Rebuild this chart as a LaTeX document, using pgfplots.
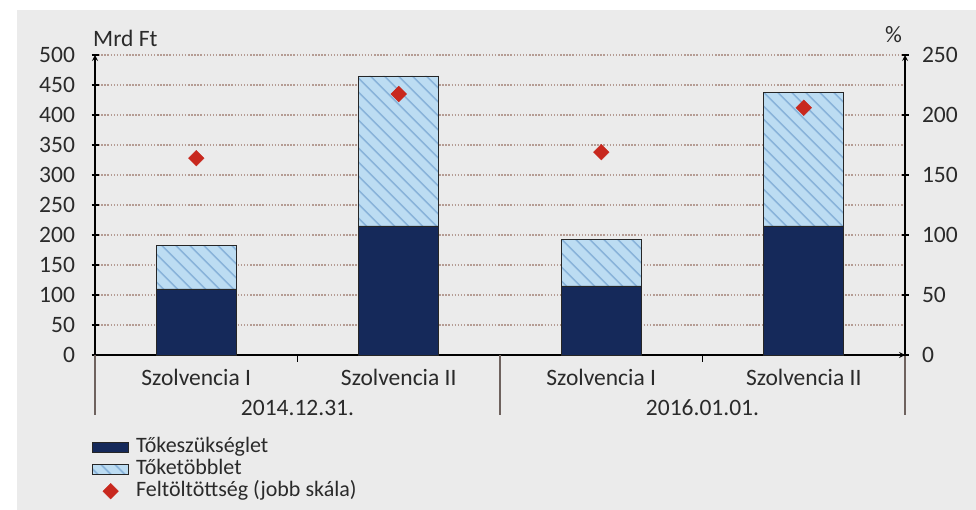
\documentclass[border=0pt]{standalone}
\usepackage{pgfplots}
\pgfplotsset{compat=1.18}
\usepackage{fontspec}
\setmainfont{Carlito}
\usetikzlibrary{patterns.meta}
\definecolor{bg}{HTML}{EBEBEB}
\definecolor{navy}{HTML}{15295A}
\definecolor{lblue}{HTML}{BCDCF2}
\definecolor{hatch}{HTML}{8AB4DA}
\definecolor{dred}{HTML}{C8281E}
\definecolor{gridc}{HTML}{B59C94}
\definecolor{txt}{HTML}{2A2A2A}
\definecolor{sep}{HTML}{6E625E}
\pgfplotsset{
  barleg/.style={legend image code/.code={\draw[##1] (0pt,-5pt) rectangle (36pt,5pt);}},
  markleg/.style={legend image code/.code={\draw[mark repeat=2,mark phase=2,##1] plot coordinates {(0pt,0pt) (18pt,0pt) (36pt,0pt)};}},
}
\begin{document}
\begin{tikzpicture}[x=1pt,y=1pt,font=\fontsize{23.5}{27}\selectfont]
\path[use as bounding box] (0,0) rectangle (976,510);
\fill[bg] (17,0) rectangle (976,500);
\pgfplotsset{
  every axis/.append style={
    at={(95pt,155pt)}, anchor=south west,
    scale only axis, width=810pt, height=300pt,
    xmin=-0.5, xmax=3.5, ymin=0,
    axis line style={line width=1.6pt, black, -},
    tick style={line width=1.4pt, black},
    major tick length=7pt,
    tick align=outside,
    tick label style={text=txt},
    /pgf/number format/assume math mode=true,
    clip=false,
  }
}
% left axis: bars (Mrd Ft)
\begin{axis}[
  ybar stacked, bar width=80pt,
  ymax=500, ytick={0,50,...,500},
  axis x line=bottom, axis y line=left,
  xtick={0,1,2,3},
  xticklabels={Szolvencia I, Szolvencia II, Szolvencia I, Szolvencia II},
  xtick style={draw=none},
  xticklabel style={anchor=center, yshift=-19pt},
  yticklabel style={xshift=-13pt},
  ymajorgrids,
  grid style={gridc, line width=1.1pt, dash pattern=on 1.5pt off 1.6pt},
  legend style={at={(rel axis cs:0,0)}, anchor=north west,
    xshift=-3pt, yshift=-82pt, draw=none, fill=none,
    inner sep=0pt, row sep=2pt, column sep=7pt,
    font=\fontsize{22}{25}\selectfont,
    nodes={inner sep=0pt, text=txt, text height=15pt, text depth=5pt}},
  legend cell align=left,
]
\addplot[fill=navy, draw=black!85, line width=0.9pt, barleg]
  coordinates {(0,110) (1,215) (2,115) (3,215)};
\addlegendentry{Tőkeszükséglet}
\addplot[fill=lblue, draw=black!85, line width=0.9pt,
  postaction={pattern={Lines[angle=-45,distance=10.5pt,line width=2pt]}, pattern color=hatch},
  barleg]
  coordinates {(0,72) (1,250) (2,77) (3,223)};
\addlegendentry{Tőketöbblet}
\addlegendimage{only marks, mark=square*, mark options={rotate=45}, mark size=5.5pt, color=dred, markleg}
\addlegendentry{Feltöltöttség (jobb skála)}
% group separators and labels
\draw[sep, line width=1.3pt] (axis cs:-0.5,0) -- ([yshift=-60pt]axis cs:-0.5,0);
\draw[sep, line width=1.3pt] (axis cs:1.5,0) -- ([yshift=-60pt]axis cs:1.5,0);
\draw[sep, line width=1.3pt] (axis cs:3.5,0) -- ([yshift=-60pt]axis cs:3.5,0);
\draw[black, line width=1.4pt] (axis cs:0.5,0) -- ([yshift=-7pt]axis cs:0.5,0);
\draw[black, line width=1.4pt] (axis cs:2.5,0) -- ([yshift=-7pt]axis cs:2.5,0);
\node[text=txt] at ([yshift=-53pt]axis cs:0.5,0) {2014.12.31.};
\node[text=txt] at ([yshift=-53pt]axis cs:2.5,0) {2016.01.01.};
\node[text=txt, anchor=base west, inner sep=0pt] at ([xshift=-2pt,yshift=8pt]rel axis cs:0,1) {Mrd Ft};
\node[text=txt, anchor=base east, inner sep=0pt] at ([xshift=-3pt,yshift=12pt]rel axis cs:1,1) {\%};
\end{axis}
% right axis: diamonds (%)
\begin{axis}[
  ymax=250, ytick={0,50,...,250},
  axis x line=none, axis y line=right,
  yticklabel style={xshift=10pt},
]
\addplot[only marks, mark=square*, mark options={rotate=45}, mark size=5.5pt, color=dred]
  coordinates {(0,164) (1,217.5) (2,169) (3,206)};
\end{axis}
\end{tikzpicture}
\end{document}
